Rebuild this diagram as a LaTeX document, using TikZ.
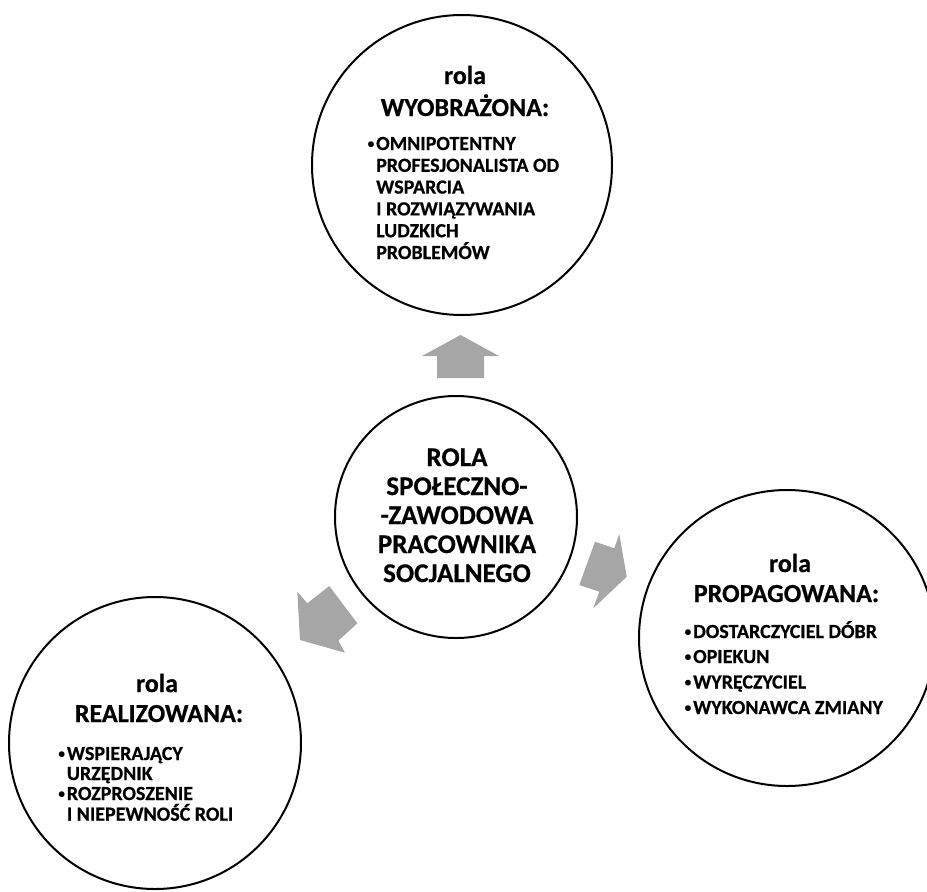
\documentclass[tikz,border=0pt]{standalone}
\usepackage{fontspec}
\setmainfont{Carlito}[BoldFeatures={FakeBold=0.6}]
\definecolor{arrowgray}{RGB}{166,166,166}
\newcommand{\blt}{\llap{\raisebox{2.2pt}{\fontsize{13}{13}\selectfont •}\kern2pt}}
\begin{document}
\begin{tikzpicture}[x=1pt,y=-1pt,
  circ/.style={circle,draw=black,line width=2pt,minimum size=#1,inner sep=0pt},
  ttl/.style={anchor=base,font=\bfseries\fontsize{26}{26}\selectfont,inner sep=0pt},
  itm/.style={anchor=base west,font=\bfseries\fontsize{20}{20}\selectfont,inner sep=0pt},
  ctrtxt/.style={anchor=base,font=\bfseries\fontsize{27}{27}\selectfont,inner sep=0pt},
  arr/.style={fill=arrowgray,draw=none}]
\useasboundingbox (0,0) rectangle (927,892);
% circles
\node[circ=300pt] (top) at (462,165) {};
\node[circ=242pt] (mid) at (456,517) {};
\node[circ=296pt] (rgt) at (787,638) {};
\node[circ=292pt] (lft) at (155,743) {};
% block arrows
\fill[arr] (437,378) -- (437,356) -- (422,356) -- (460.5,335) -- (499,356) -- (484,356) -- (484,378) -- cycle;
\fill[arr] (595,541.7) -- (614.3,548.3) -- (619.3,534) -- (626.7,576.7) -- (593.3,608.3) -- (599.3,591.7) -- (579.3,585) -- cycle;
\fill[arr] (297.3,591.7) -- (307.3,603.3) -- (329.3,586) -- (357.3,623.3) -- (338.3,640.7) -- (345,652.7) -- (300,640) -- cycle;
% top circle text
\node[ttl] (tr) at (465,84) {rola};
\node[ttl] (tt) at (465,116) {WYOBRAŻONA:};
\node[itm] (ti1) at (376,150) {\blt OMNIPOTENTNY};
\node[itm] (ti2) at (376,171.8) {PROFESJONALISTA OD};
\node[itm] (ti3) at (376,193.6) {WSPARCIA};
\node[itm] (ti4) at (376,215.4) {I ROZWIĄZYWANIA};
\node[itm] (ti5) at (376,237.2) {LUDZKICH};
\node[itm] (ti6) at (376,259) {PROBLEMÓW};
% centre text
\node[ctrtxt] (c1) at (457,466) {ROLA};
\node[ctrtxt] (c2) at (457,495) {SPOŁECZNO-};
\node[ctrtxt] (c3) at (457,524) {-ZAWODOWA};
\node[ctrtxt] (c4) at (457,553) {PRACOWNIKA};
\node[ctrtxt] (c5) at (457,582) {SOCJALNEGO};
% right circle text
\node[ttl] (rr) at (790,572) {rola};
\node[ttl] (rt) at (786.5,602) {PROPAGOWANA:};
\node[itm] (ri1) at (693,638) {\blt DOSTARCZYCIEL DÓBR};
\node[itm] (ri2) at (693,663) {\blt OPIEKUN};
\node[itm] (ri3) at (693,688.5) {\blt WYRĘCZYCIEL};
\node[itm] (ri4) at (693,714) {\blt WYKONAWCA ZMIANY};
% left circle text
\node[ttl] (lr) at (157,692) {rola};
\node[ttl] (lt) at (159,722) {REALIZOWANA:};
\node[itm] (li1) at (66.7,760) {\blt WSPIERAJĄCY};
\node[itm] (li2) at (66.7,780) {URZĘDNIK};
\node[itm] (li3) at (66.7,800) {\blt ROZPROSZENIE};
\node[itm] (li4) at (66.7,820.7) {I NIEPEWNOŚĆ ROLI};
\end{tikzpicture}
\end{document}
